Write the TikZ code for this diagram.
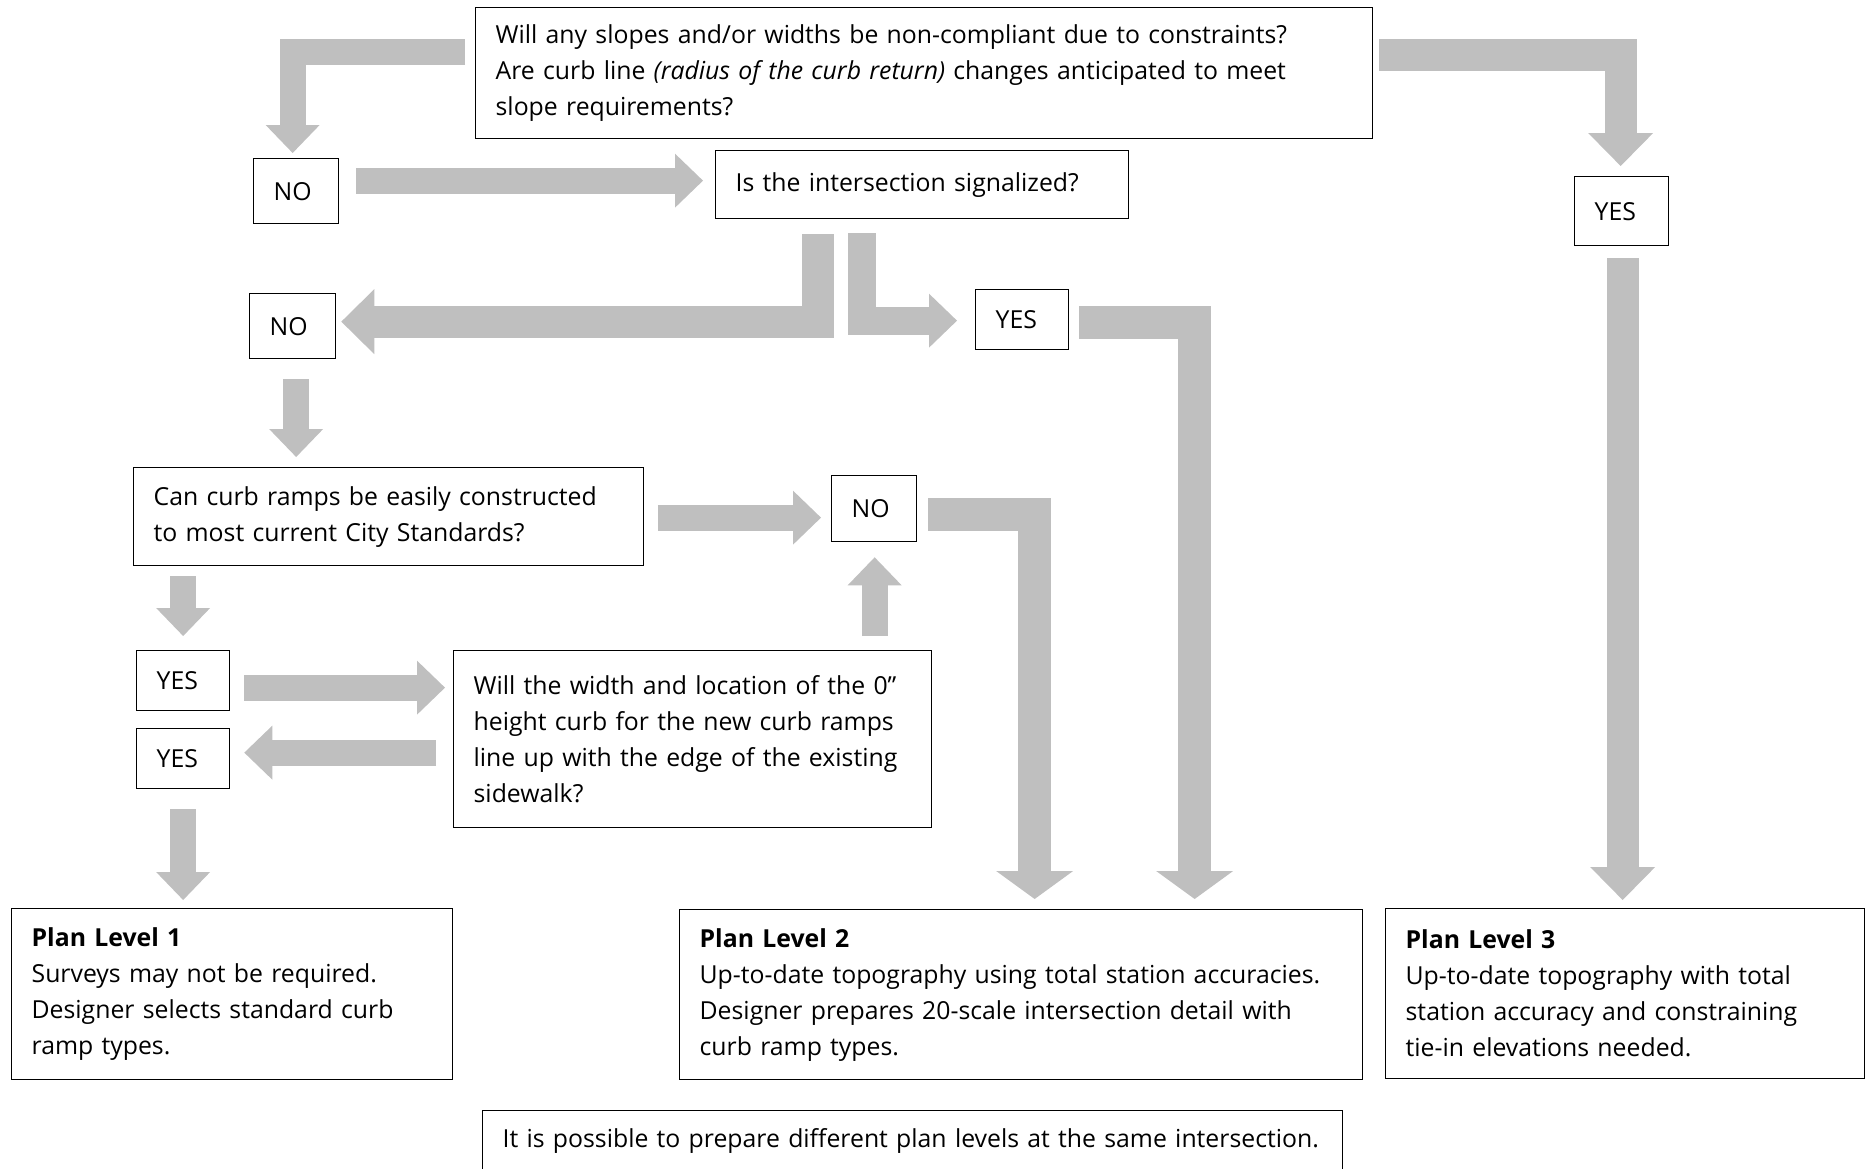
\documentclass[tikz,border=0pt]{standalone}
\usepackage{fontspec}
\setmainfont{Open Sans}
\usetikzlibrary{arrows.meta}
\definecolor{arrowgray}{RGB}{191,191,191}
\tikzset{
  qbox/.style={draw, line width=1.3pt, anchor=north west, inner xsep=20pt, inner ysep=0pt,
    align=left, font=\fontsize{24.8}{36}\selectfont},
  flow/.style={draw=arrowgray, line width=26pt, line join=miter,
    -{Triangle[width=54pt,length=28pt,line width=0pt]}},
  bigflow/.style={draw=arrowgray, line width=32pt, line join=miter,
    -{Triangle[width=65pt,length=33pt,line width=0pt]}},
  wideflow/.style={draw=arrowgray, line width=33pt, line join=miter,
    -{Triangle[width=77pt,length=28pt,line width=0pt]}}
}
\begin{document}
\begin{tikzpicture}[x=1pt, y=-1pt]
    \useasboundingbox (0,0) rectangle (1869,1168);
    \clip (0,0) rectangle (1869,1168);

    % questions and answers
    \node[qbox, text width=857pt, minimum height=131pt] (q1) at (475,7)
        {Will any slopes and/or widths be non-compliant due to constraints?\\
         Are curb line \textit{(radius of the curb return)} changes anticipated to meet\\
         slope requirements?};
    \node[qbox, text width=45pt, minimum height=65pt] (no1) at (253,158) {NO};
    \node[qbox, text width=373pt, minimum height=68pt] (sig) at (715,150) {Is the intersection signalized?};
    \node[qbox, text width=54pt, minimum height=69pt] (yestop) at (1574,176) {YES};
    \node[qbox, text width=46pt, minimum height=65pt] (no2) at (249,293) {NO};
    \node[qbox, text width=53pt, minimum height=60pt] (yessig) at (975,289) {YES};
    \node[qbox, text width=470pt, minimum height=98pt] (curb) at (133,467)
        {Can curb ramps be easily constructed\\ to most current City Standards?};
    \node[qbox, text width=45pt, minimum height=66pt] (no3) at (831,475) {NO};
    \node[qbox, text width=53pt, minimum height=60pt] (yes1) at (136,650) {YES};
    \node[qbox, text width=53pt, minimum height=60pt] (yes2) at (136,728) {YES};
    \node[qbox, text width=438pt, minimum height=177pt] (width) at (453,650)
        {Will the width and location of the 0”\\ height curb for the new curb ramps\\
         line up with the edge of the existing\\ sidewalk?};

    % plan levels
    \node[qbox, text width=401pt, minimum height=171pt] (plan1) at (11,908)
        {\textbf{Plan Level 1}\\ Surveys may not be required.\\ Designer selects standard curb\\ ramp types.};
    \node[qbox, text width=643pt, minimum height=170pt] (plan2) at (679,909)
        {\textbf{Plan Level 2}\\ Up-to-date topography using total station accuracies.\\
         Designer prepares 20-scale intersection detail with\\ curb ramp types.};
    \node[qbox, text width=439pt, minimum height=170pt] (plan3) at (1385,908)
        {\textbf{Plan Level 3}\\ Up-to-date topography with total\\ station accuracy and constraining\\ tie-in elevations needed.};
    \node[qbox, text width=820pt, minimum height=60pt] (note) at (482,1110)
        {It is possible to prepare different plan levels at the same intersection.};

    % arrows
    \draw[flow] ([shift={(-10,-21.5)}]q1.west) -| ([shift={(-3.5,-5)}]no1.north);
    \draw[bigflow] ([shift={(6,-18.5)}]q1.east) -| ([shift={(-1,-10)}]yestop.north);
    \draw[flow] ([shift={(17,-10.5)}]no1.east) -- ([shift={(-12,-4)}]sig.west);
    \draw[bigflow] ([shift={(-104.5,15)}]sig.south) |- ([shift={(5,-4.5)}]no2.east);
    \draw[flow, line width=28pt] ([shift={(-60.5,14)}]sig.south) |- ([shift={(-18,1)}]yessig.west);
    \draw[wideflow] ([shift={(10,3)}]yessig.east) -| ([shift={(173.5,-10)}]plan2.north);
    \draw[bigflow] ([shift={(1,12)}]yestop.south) -- ([shift={(-2.5,-8)}]plan3.north);
    \draw[flow] ([shift={(3.5,20)}]no2.south) -- ([shift={(-92.5,-10)}]curb.north);
    \draw[flow] ([shift={(13.5,1)}]curb.east) -- ([shift={(-10,9)}]no3.west);
    \draw[wideflow] ([shift={(11,6)}]no3.east) -| ([shift={(13.5,-10)}]plan2.north);
    \draw[flow] ([shift={(-205.5,10)}]curb.south) -- ([shift={(0,-14)}]yes1.north);
    \draw[flow] ([shift={(14,7)}]yes1.east) -- ([shift={(-8,-51.5)}]width.west);
    \draw[flow] ([shift={(-17,13.5)}]width.west) -- ([shift={(14,-6)}]yes2.east);
    \draw[flow] ([shift={(182,-14)}]width.north) -- ([shift={(0.5,15)}]no3.south);
    \draw[flow] ([shift={(0,20)}]yes2.south) -- ([shift={(-49,-8)}]plan1.north);
\end{tikzpicture}
\end{document}
